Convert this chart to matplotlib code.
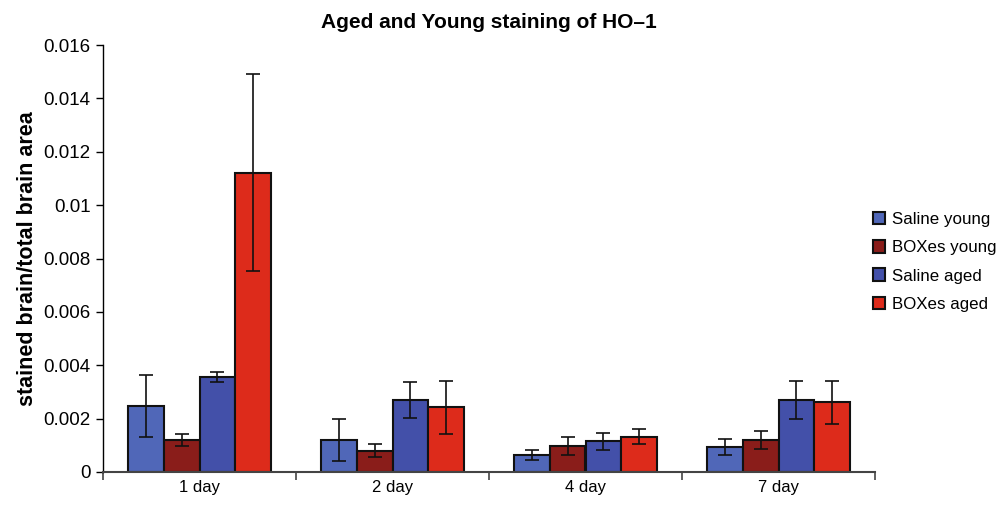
import matplotlib
matplotlib.use("Agg")
import matplotlib.pyplot as plt
import numpy as np

plt.rcParams['font.family'] = ['Liberation Sans', 'DejaVu Sans']

categories = ["1 day", "2 day", "4 day", "7 day"]
series_names = ["Saline young", "BOXes young", "Saline aged", "BOXes aged"]
saline_young = [0.00248, 0.00120, 0.00064, 0.00093]
boxes_young = [0.00120, 0.00080, 0.00096, 0.00120]
saline_aged = [0.00357, 0.00270, 0.00116, 0.00270]
boxes_aged = [0.01122, 0.00242, 0.00132, 0.00261]
saline_young_err = [0.00115, 0.00078, 0.00020, 0.00030]
boxes_young_err = [0.00021, 0.00024, 0.00034, 0.00033]
saline_aged_err = [0.00019, 0.00068, 0.00032, 0.00070]
boxes_aged_err = [0.00368, 0.00100, 0.00028, 0.00080]
yticks = [0, 0.002, 0.004, 0.006, 0.008, 0.01, 0.012, 0.014, 0.016]
ytick_labels = ["0", "0.002", "0.004", "0.006", "0.008", "0.01", "0.012", "0.014", "0.016"]

values = [saline_young, boxes_young, saline_aged, boxes_aged]
errors = [saline_young_err, boxes_young_err, saline_aged_err, boxes_aged_err]
colors = ["#5067B8", "#8A1D1A", "#4350A9", "#DD2B1B"]

fig = plt.figure(figsize=(10.03, 5.05), dpi=100)
ax = fig.add_axes([103/1003, 33/505, (875-103)/1003, (472-45)/505])

x = np.arange(len(categories))
w = 0.184
for i, (vals, errs, c, name) in enumerate(zip(values, errors, colors, series_names)):
    pos = x + (i - 1.5) * w
    ax.bar(pos, vals, width=w, color=c, edgecolor="#111111", linewidth=1.5, label=name, zorder=2)
    ax.errorbar(pos, vals, yerr=errs, fmt="none", ecolor="#111111", elinewidth=1.2,
                capsize=5, capthick=1.2, zorder=3)

ax.set_xlim(-0.5, len(categories) - 0.5)
ax.set_ylim(0, 0.016)
ax.set_yticks(yticks)
ax.set_yticklabels(ytick_labels, fontsize=13.5)
ax.set_xticks(x)
ax.set_xticklabels(categories, fontsize=12)
ax.tick_params(axis="x", which="major", length=0, pad=6)
ax.set_xticks(np.arange(-0.5, len(categories), 1.0), minor=True)
ax.tick_params(axis="x", which="minor", length=6, width=1.2, color="#444444", direction="out")
ax.tick_params(axis="y", length=5, width=1.0, direction="out", pad=4)

for s in ["top", "right"]:
    ax.spines[s].set_visible(False)
ax.spines["left"].set_linewidth(1.0)
ax.spines["bottom"].set_linewidth(1.5)
ax.spines["bottom"].set_color("#444444")

ax.set_ylabel("stained brain/total brain area", fontsize=15.5, fontweight="bold", labelpad=4)
ax.set_title("Aged and Young staining of HO\u20131", fontsize=15, fontweight="bold", pad=12)

leg = fig.legend(loc="upper left", bbox_to_anchor=(866/1003, 1 - 205/505), frameon=False,
                 fontsize=12.2, handlelength=0.75, handleheight=0.75, handletextpad=0.4,
                 labelspacing=0.78, borderaxespad=0)

fig.savefig("out.png", dpi=100)
